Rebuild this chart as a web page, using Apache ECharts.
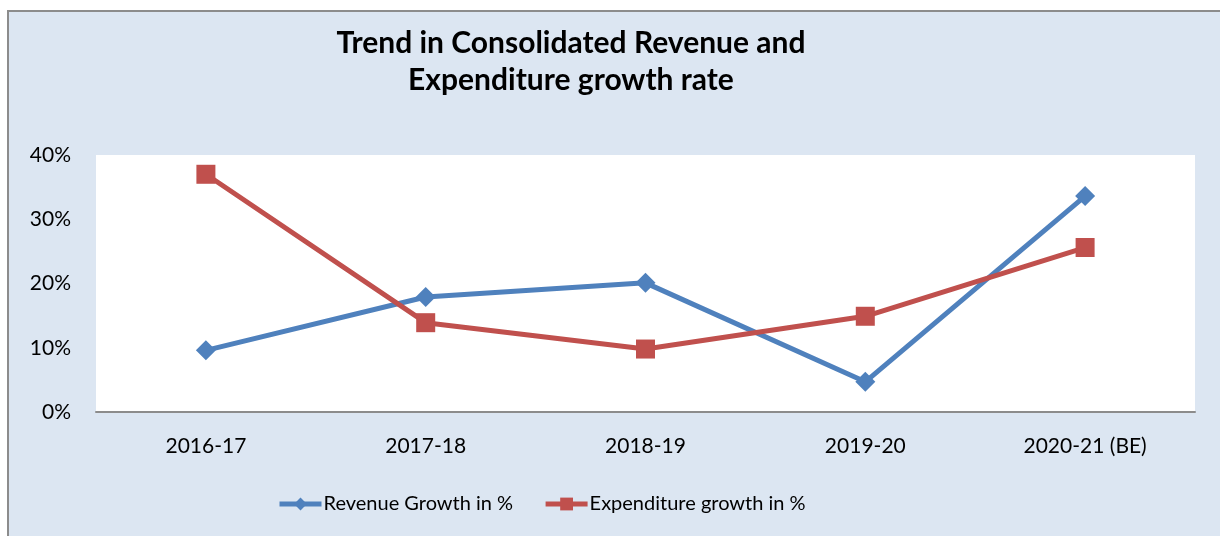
<!DOCTYPE html>
<html>
<head>
<meta charset="utf-8">
<title>Trend in Consolidated Revenue and Expenditure growth rate</title>
<script src="https://cdn.jsdelivr.net/npm/echarts@6/dist/echarts.min.js"></script>
<style>
  html, body { margin: 0; padding: 0; background: #ffffff; }
  #chart { width: 1220px; height: 536px; }
</style>
</head>
<body>
<div id="chart"></div>
<script type="text/javascript">
    // data
    var years = ['2016-17', '2017-18', '2018-19', '2019-20', '2020-21 (BE)'];
    var revenueGrowth = [9.6, 17.9, 20.1, 4.7, 33.6];
    var expenditureGrowth = [37.0, 13.9, 9.8, 14.9, 25.6];
    var yTicks = [0, 10, 20, 30, 40];

    var font = 'Lato, "Open Sans", sans-serif';
    var myChart = echarts.init(document.getElementById('chart'));

    var option = {
        backgroundColor: '#dce6f2',
        animation: false,
        textStyle: { fontFamily: font, color: '#000' },
        graphic: [
            { type: 'rect', shape: { x: 0, y: 0, width: 1220, height: 10 }, style: { fill: '#ffffff' }, silent: true },
            { type: 'rect', shape: { x: 0, y: 0, width: 7, height: 536 }, style: { fill: '#ffffff' }, silent: true },
            { type: 'line', shape: { x1: 7, y1: 11, x2: 1220, y2: 11 }, style: { stroke: '#8c8c8c', lineWidth: 2 }, silent: true },
            { type: 'line', shape: { x1: 8, y1: 10, x2: 8, y2: 536 }, style: { stroke: '#8c8c8c', lineWidth: 2 }, silent: true }
        ],
        title: {
            text: 'Trend in Consolidated Revenue and\nExpenditure growth rate',
            left: 566,
            top: 20,
            textAlign: 'center',
            textStyle: { fontFamily: font, fontWeight: 'bold', fontSize: 30, lineHeight: 37, color: '#000' }
        },
        legend: {
            bottom: 17,
            left: 272,
            itemWidth: 42,
            itemHeight: 16,
            itemGap: 30,
            lineStyle: { width: 5 },
            textStyle: { fontFamily: font, fontSize: 20, color: '#000', padding: [0, 0, 0, -3] },
            data: ['Revenue Growth in %', 'Expenditure growth in %']
        },
        grid: {
            left: 96,
            right: 25,
            top: 155,
            bottom: 124,
            show: true,
            backgroundColor: '#ffffff',
            borderWidth: 0,
            containLabel: false
        },
        xAxis: {
            type: 'category',
            data: years,
            boundaryGap: true,
            axisLine: { lineStyle: { color: '#8c8c8c', width: 2 } },
            axisTick: { show: false },
            axisLabel: { fontFamily: font, fontSize: 21, color: '#000', margin: 24 }
        },
        yAxis: {
            type: 'value',
            min: yTicks[0],
            max: yTicks[yTicks.length - 1],
            interval: 10,
            axisLine: { show: false },
            axisTick: { show: false },
            splitLine: { show: false },
            axisLabel: { fontFamily: font, fontSize: 21, color: '#000', margin: 25, formatter: '{value}%' }
        },
        series: [
            {
                name: 'Revenue Growth in %',
                type: 'line',
                data: revenueGrowth,
                symbol: 'diamond',
                symbolSize: 20,
                color: '#4f81bd',
                lineStyle: { width: 5, color: '#4f81bd' },
                itemStyle: { color: '#4f81bd' },
                z: 2
            },
            {
                name: 'Expenditure growth in %',
                type: 'line',
                data: expenditureGrowth,
                symbol: 'rect',
                symbolSize: 19,
                color: '#c0504d',
                lineStyle: { width: 5, color: '#c0504d' },
                itemStyle: { color: '#c0504d' },
                z: 3
            }
        ]
    };
    myChart.setOption(option);
</script>
</body>
</html>
